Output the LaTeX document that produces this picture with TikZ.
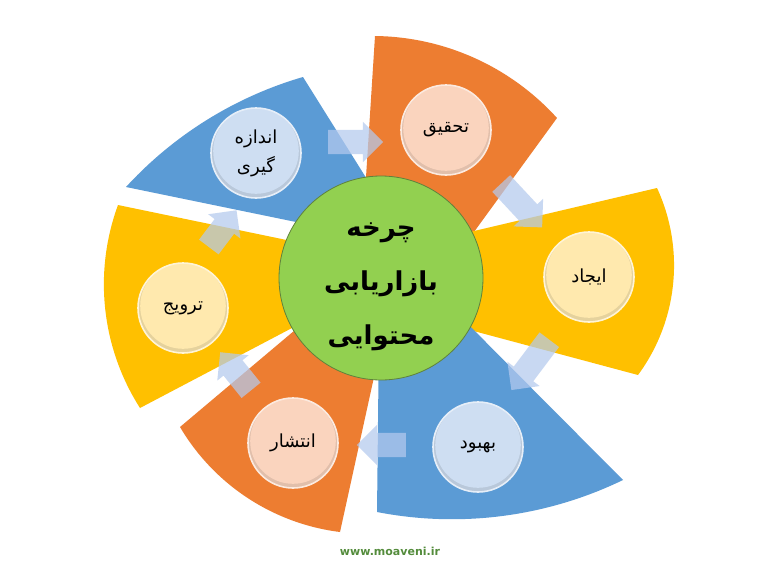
\documentclass[tikz,border=0pt]{standalone}
\usepackage{fontspec}
\usetikzlibrary{shapes.arrows}
\TeXXeTstate=1
\newfontfamily\arabicfont[Script=Arabic]{DejaVu Sans}
\setsansfont{DejaVu Sans}
\definecolor{wOr}{HTML}{ED7D31}
\definecolor{wBl}{HTML}{5B9BD5}
\definecolor{wYe}{HTML}{FFC000}
\definecolor{wGr}{HTML}{92D050}
\definecolor{cOr}{RGB}{250,212,190}
\definecolor{cBl}{RGB}{206,222,242}
\definecolor{cYe}{RGB}{255,233,174}
\definecolor{arrC}{RGB}{180,202,238}
\definecolor{webC}{RGB}{84,140,60}
% circle through three points A, M, B (user units): sets \arcR, \arcS, \arcD
\newcommand\arcthrough[6]{%
 \edef\tmpbx{\fpeval{(#5)-(#1)}}\edef\tmpby{\fpeval{(#6)-(#2)}}%
 \edef\tmpmx{\fpeval{(#3)-(#1)}}\edef\tmpmy{\fpeval{(#4)-(#2)}}%
 \edef\tmpdet{\fpeval{2*((\tmpbx)*(\tmpmy)-(\tmpby)*(\tmpmx))}}%
 \edef\tmpbb{\fpeval{(\tmpbx)^2+(\tmpby)^2}}%
 \edef\tmpmm{\fpeval{(\tmpmx)^2+(\tmpmy)^2}}%
 \edef\tmpux{\fpeval{((\tmpmy)*(\tmpbb)-(\tmpby)*(\tmpmm))/(\tmpdet)}}%
 \edef\tmpuy{\fpeval{((\tmpbx)*(\tmpmm)-(\tmpmx)*(\tmpbb))/(\tmpdet)}}%
 \edef\arcR{\fpeval{round(sqrt((\tmpux)^2+(\tmpuy)^2),3)}}%
 \edef\arcS{\fpeval{round(atand(0-(\tmpuy),0-(\tmpux)),3)}}%
 \edef\tmpE{\fpeval{atand((\tmpby)-(\tmpuy),(\tmpbx)-(\tmpux))}}%
 \edef\tmpD{\fpeval{(\tmpE)-(\arcS)}}%
 \edef\arcD{\fpeval{round((\tmpD)>180 ? (\tmpD)-360 : ((\tmpD)<-180 ? (\tmpD)+360 : (\tmpD)),3)}}%
}
\begin{document}
\begin{tikzpicture}[x=1pt,y=-1pt,
  stepcirc/.style={circle, minimum size=90pt, inner sep=0pt, line width=1.6pt,
     fill=#1, draw=white!50!#1,
     path picture={\fill[#1!90!black] (path picture bounding box.center) circle (46pt);
                   \fill[#1] ([yshift=2pt]path picture bounding box.center) circle (42.8pt);},
     font=\arabicfont\fontsize{18}{29}\selectfont, align=center},
  blockarr/.style={single arrow, draw=none, fill=arrC, fill opacity=0.72,
     inner xsep=0pt, inner ysep=12pt, single arrow head extend=8pt},
  hubc/.style={circle, minimum size=204pt, inner sep=0pt, fill=wGr,
     draw={rgb,255:red,95;green,130;blue,60}, line width=0.8pt},
  hubtext/.style={font=\arabicfont\bfseries\fontsize{26}{54}\selectfont, align=center}]
\useasboundingbox (0,0) rectangle (768,576);
\fill[white] (0,0) rectangle (768,576);

% wedges
\arcthrough{126}{187}{210}{118}{303}{77}
\fill[wBl] (330,229) -- (126,187) arc[start angle=\arcS, delta angle=\arcD, radius=\arcR] -- (385,208) -- cycle;
\arcthrough{375}{36}{460}{52}{557}{118}
\fill[wOr] (362,240) -- (375,36) arc[start angle=\arcS, delta angle=\arcD, radius=\arcR] -- (455,258) -- cycle;
\arcthrough{657}{188}{673}{285}{638}{375}
\fill[wYe] (440,239) -- (657,188) arc[start angle=\arcS, delta angle=\arcD, radius=\arcR] -- (440,322) -- cycle;
\arcthrough{623}{480}{483}{518}{377}{512}
\fill[wBl] (440,296) -- (623,480) arc[start angle=\arcS, delta angle=\arcD, radius=\arcR] -- (379,330) -- cycle;
\arcthrough{340}{532}{254}{502}{180}{427}
\fill[wOr] (383,336) -- (340,532) arc[start angle=\arcS, delta angle=\arcD, radius=\arcR] -- (320,309) -- cycle;
\arcthrough{140}{408}{105}{307}{118}{205}
\fill[wYe] (330,308) -- (140,408) arc[start angle=\arcS, delta angle=\arcD, radius=\arcR] -- (330,249) -- cycle;

% hub
\node[hubc] (hub) at (381,278) {};
\node[hubtext] (hubt) at (381,287) {\beginR چرخه\endR\\\beginR بازاریابی\endR\\\beginR محتوایی\endR};

% step circles
\node[stepcirc=cOr] (s1) at (446,130) {\beginR تحقیق\endR};
\node[stepcirc=cYe] (s2) at (589,277) {\beginR ایجاد\endR};
\node[stepcirc=cBl] (s3) at (478,447) {\beginR بهبود\endR};
\node[stepcirc=cOr] (s4) at (293,443) {\beginR انتشار\endR};
\node[stepcirc=cYe] (s5) at (183,308) {\beginR ترویج\endR};
\node[stepcirc=cBl] (s6) at (256,153) {\beginR اندازه\endR\\\beginR گیری\endR};

% arrows
\node[blockarr, minimum height=55pt, rotate=0] (a1) at (349.5,142) {};
\node[blockarr, minimum height=60pt, rotate=-47] (a2) at (517.5,201) {};
\node[blockarr, minimum height=63pt, rotate=-127] (a3) at (534,360) {};
\node[blockarr, minimum height=49pt, rotate=180] (a4) at (387.5,445) {};
\node[blockarr, minimum height=49pt, rotate=129] (a5) at (239.5,376) {};
\node[blockarr, minimum height=46pt, rotate=53] (a6) at (219,233.5) {};

% footer
\node[font=\sffamily\bfseries\fontsize{11}{13}\selectfont, text=webC] (web) at (390,551) {www.moaveni.ir};
\end{tikzpicture}
\end{document}
